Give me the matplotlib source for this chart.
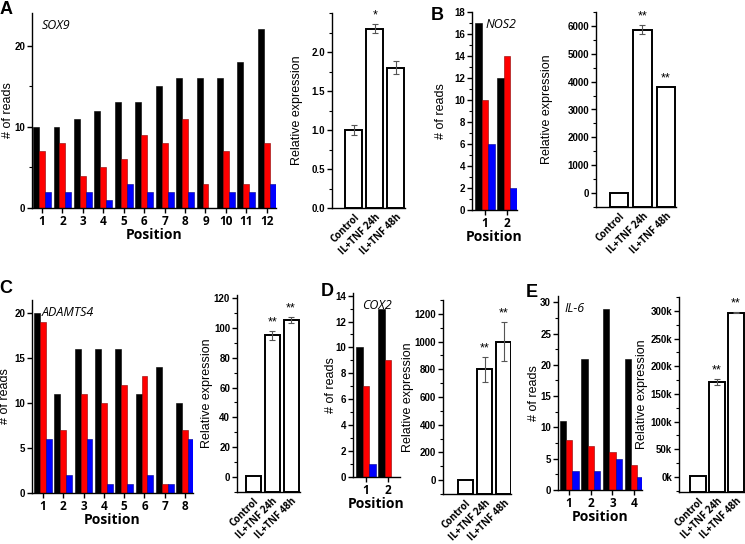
import matplotlib
matplotlib.use("Agg")
import matplotlib.pyplot as plt
import matplotlib.transforms as mtransforms
import numpy as np

W, H = 745, 544

conditions = ["Control", "IL+TNF 24h", "IL+TNF 48h"]

# A - SOX9
sox9_black = [10, 10, 11, 12, 13, 13, 15, 16, 16, 16, 18, 22]
sox9_red = [7, 8, 4, 5, 6, 9, 8, 11, 3, 7, 3, 8]
sox9_blue = [2, 2, 2, 1, 3, 2, 2, 2, 0, 2, 2, 3]
sox9_expr = [1.0, 2.3, 1.8]
sox9_err = [0.07, 0.06, 0.08]
sox9_sig = ["", "*", ""]

# B - NOS2
nos2_black = [17, 12]
nos2_red = [10, 14]
nos2_blue = [6, 2]
nos2_expr = [1, 5870, 3800]
nos2_err = [0, 150, 0]
nos2_sig = ["", "**", "**"]

# C - ADAMTS4
adamts4_black = [20, 11, 16, 16, 16, 11, 14, 10]
adamts4_red = [19, 7, 11, 10, 12, 13, 1, 7]
adamts4_blue = [6, 2, 6, 1, 1, 2, 1, 6]
adamts4_expr = [1, 95, 105]
adamts4_err = [0, 3, 2]
adamts4_sig = ["", "**", "**"]

# D - COX2
cox2_black = [10, 13]
cox2_red = [7, 9]
cox2_blue = [1, 0]
cox2_expr = [1, 800, 1000]
cox2_err = [0, 90, 140]
cox2_sig = ["", "**", "**"]

# E - IL-6
il6_black = [11, 21, 29, 21]
il6_red = [8, 7, 6, 4]
il6_blue = [3, 3, 5, 2]
il6_expr = [1000, 172000, 297000]
il6_err = [0, 5000, 1000]
il6_sig = ["", "**", "**"]

plt.rcParams['font.family'] = ['Liberation Sans', 'DejaVu Sans']
plt.rcParams['font.weight'] = 'bold'

fig = plt.figure(figsize=(W / 100, H / 100), dpi=100)


def px_axes(l, t, r, b, ylab_x):
    ax = fig.add_axes([l / W, 1 - b / H, (r - l) / W, (b - t) / H])
    for s in ['top', 'right']:
        ax.spines[s].set_visible(False)
    for s in ['left', 'bottom']:
        ax.spines[s].set_linewidth(1.0)
    ax.tick_params(which='major', length=3.5, width=1, labelsize=7, pad=1.5)
    ax.tick_params(which='minor', length=2, width=0.8)
    ax.yaxis.set_label_coords((ylab_x - l) / (r - l), 0.5)
    return ax


def reads_panel(box, ylab_x, black, red, blue, ylim, major, minor, xlim, gene, gx):
    ax = px_axes(*box, ylab_x)
    x = np.arange(1, len(black) + 1)
    w = 0.29
    ax.bar(x - w, black, w, color='black', edgecolor='black', linewidth=0.4)
    ax.bar(x, red, w, color='#ff0000', edgecolor='#8b0000', linewidth=0.4)
    ax.bar(x + w, blue, w, color='#0000ff', edgecolor='#00008b', linewidth=0.4)
    ax.set_xlim(*xlim)
    ax.set_ylim(*ylim)
    ax.set_xticks(x)
    ax.set_xticklabels([str(i) for i in x], fontsize=8.5, fontfamily='Open Sans', fontweight='bold')
    yt = np.arange(0, ylim[1] + 0.01, major)
    ax.set_yticks(yt)
    ax.set_yticklabels([f"{v:g}" for v in yt])
    if minor:
        ax.set_yticks(np.arange(0, ylim[1] + 0.01, minor), minor=True)
    ax.set_ylabel("# of reads", fontsize=9)
    ax.set_xlabel("Position", fontsize=10, fontfamily='Open Sans', fontweight='bold', labelpad=0)
    ax.text(gx, 0.97, gene, transform=ax.transAxes, fontsize=9, fontstyle='italic',
            fontweight='normal', fontfamily='Open Sans', ha='left', va='top')
    return ax


def expr_panel(box, ylab_x, vals, errs, sigs, ylim, major, yt_max, minor, xlim, fmt=None):
    ax = px_axes(*box, ylab_x)
    x = np.arange(len(vals))
    base = ylim[0]
    heights = [v - base for v in vals]
    ax.bar(x, heights, 0.8, bottom=base, color='white', edgecolor='black', linewidth=1.4)
    for xi, v, e in zip(x, vals, errs):
        if e > 0:
            ax.errorbar(xi, v, yerr=e, fmt='none', ecolor='#555555', elinewidth=0.8, capsize=2, capthick=0.8)
    for xi, v, e, s in zip(x, vals, errs, sigs):
        if s:
            ax.annotate(s, (xi, v + e), xytext=(0, 2), textcoords='offset points',
                        ha='center', va='bottom', fontsize=9, fontweight='normal')
    ax.set_xlim(*xlim)
    ax.set_ylim(*ylim)
    ax.set_xticks(x)
    labels = ax.set_xticklabels(conditions, rotation=45, ha='right', va='top', rotation_mode='anchor',
                                fontsize=7, fontfamily='Open Sans', fontweight='bold')
    shift = mtransforms.ScaledTranslation(7 / 100, 0, fig.dpi_scale_trans)
    for lab in labels:
        lab.set_transform(lab.get_transform() + shift)
    ax.tick_params(axis='x', length=0, pad=3)
    yt = np.arange(0, yt_max + major * 0.01, major)
    ax.set_yticks(yt)
    ax.set_yticklabels([fmt(v) if fmt else f"{v:g}" for v in yt])
    start = 0 if ylim[0] >= 0 else -minor * int(-ylim[0] // minor)
    ax.set_yticks(np.arange(start, ylim[1] + 0.001, minor), minor=True)
    ax.set_ylabel("Relative expression", fontsize=9)
    return ax


# A
reads_panel((32, 13, 276, 208), 14, sox9_black, sox9_red, sox9_blue, (0, 24), 10, 5,
            (0.51, 12.45), "SOX9", 0.04)
expr_panel((332, 13, 405, 208), 303, sox9_expr, sox9_err, sox9_sig, (0, 2.5), 0.5, 2.0, 0.25,
           (-1.03, 2.43), fmt=lambda v: f"{v:.1f}")

# B
reads_panel((472, 12, 517, 210), 447, nos2_black, nos2_red, nos2_blue, (0, 18), 2, 1,
            (0.41, 2.45), "NOS2", 0.3)
expr_panel((596, 12, 676, 207), 553, nos2_expr, nos2_err, nos2_sig, (-500, 6500), 1000, 6000, 500,
           (-0.98, 2.43))

# C
reads_panel((32, 300, 193, 493), 11, adamts4_black, adamts4_red, adamts4_blue, (0, 21.5), 5, None,
            (0.46, 8.39), "ADAMTS4", 0.06)
expr_panel((237, 295, 300, 492), 213, adamts4_expr, adamts4_err, adamts4_sig, (-10, 122), 20, 120, 10,
           (-0.88, 2.48))

# D
reads_panel((353, 293, 400, 477), 337, cox2_black, cox2_red, cox2_blue, (0, 14.2), 2, 1,
            (0.41, 2.55), "COX2", 0.2)
expr_panel((443, 300, 511, 494), 414, cox2_expr, cox2_err, cox2_sig, (-100, 1300), 200, 1200, 100,
           (-1.18, 2.39))

# E
reads_panel((558, 296, 642, 490), 540, il6_black, il6_red, il6_blue, (0, 31), 5, 2.5,
            (0.49, 4.36), "IL-6", 0.08)
expr_panel((679, 297, 745, 492), 648, il6_expr, il6_err, il6_sig, (-27000, 325000), 50000, 300000, 25000,
           (-1.0, 2.47), fmt=lambda v: f"{v / 1000:.0f}k")

# panel letters
for letter, lx, ly in [("A", 6, 1), ("B", 437, 7), ("C", 6, 280), ("D", 327, 283), ("E", 532, 284)]:
    fig.text(lx / W, 1 - ly / H, letter, fontsize=13, fontweight='bold', ha='center', va='top')

fig.savefig("out.png", dpi=100)
